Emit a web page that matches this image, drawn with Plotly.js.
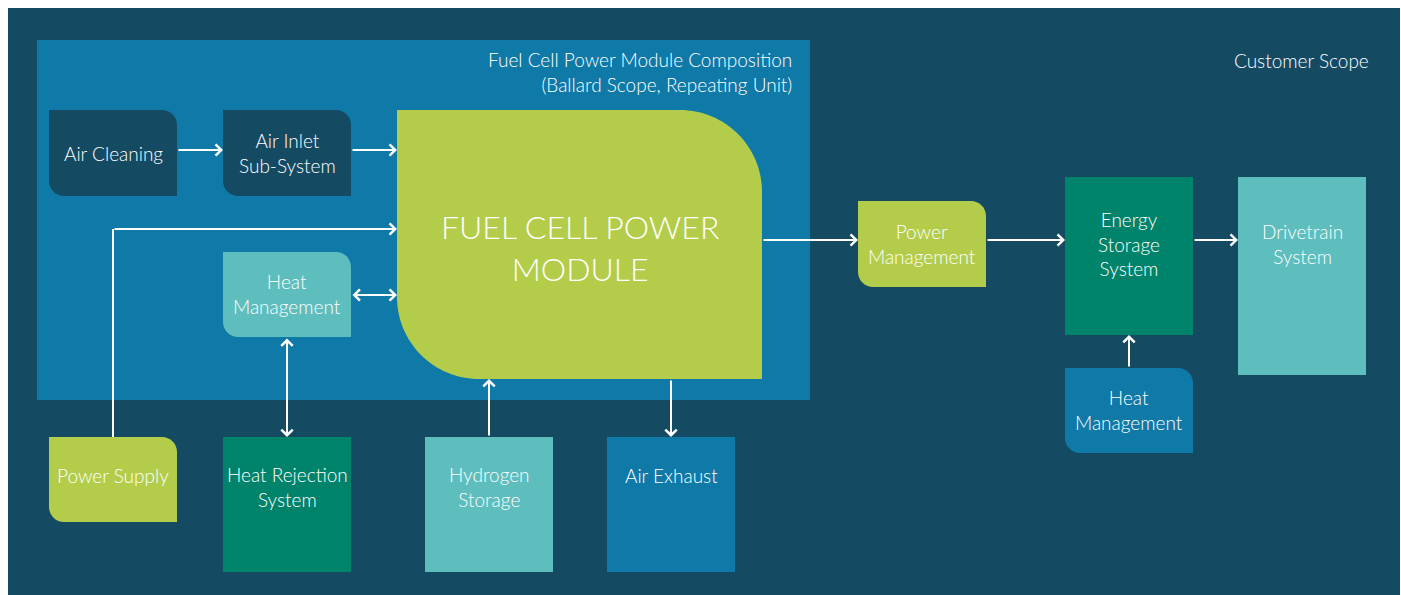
<!DOCTYPE html>
<html>
<head>
<meta charset="utf-8">
<script src="https://cdn.plot.ly/plotly-3.0.1.min.js"></script>
<style>html,body{margin:0;padding:0;background:#fff;}#chart{width:1401px;height:595px;}</style>
</head>
<body>
<div id="chart"></div>
<script>
// ---- diagram data (diagram coordinate space: x 0..1401, y 0..595 top-down) ----
const nodeNames  = ['Air Cleaning', 'Air Inlet<br>Sub-System', 'Heat<br>Management', 'Power Supply',
                    'Heat Rejection<br>System', 'Hydrogen<br>Storage', 'Air Exhaust', 'Power<br>Management',
                    'Energy<br>Storage<br>System', 'Heat<br>Management', 'Drivetrain<br>System'];
const nodeKind   = ['dark', 'dark', 'teal', 'lime', 'green', 'teal', 'blue', 'lime', 'green', 'blue', 'teal'];
const nodeRounded= [true, true, true, true, false, false, false, true, false, true, false];
const nodeLeft   = [49, 223, 223, 49, 223, 425, 607, 858, 1065, 1065, 1238];
const nodeRight  = [177, 351, 351, 177, 351, 553, 735, 986, 1193, 1193, 1366];
const nodeTop    = [110, 110, 252, 437, 437, 437, 437, 201, 177, 368, 177];
const nodeBottom = [196, 196, 337, 522, 572, 572, 572, 287, 335, 453, 375];
const nodeTextY  = [153, 153, 294, 475, 487, 487, 475, 244, 244, 410, 244];

const coreName   = 'FUEL CELL POWER<br>MODULE';
const coreBox    = [397, 110, 762, 379]; // left, top, right, bottom

const scopeBox   = [37, 40, 810, 400];
const scopeText  = 'Fuel Cell Power Module Composition<br>(Ballard Scope, Repeating Unit)';
const customerText = 'Customer Scope';

// links: tail x, tail y, head x, head y, both ends?
const linkX0 = [177, 351, 113, 351, 287, 489, 671, 762, 986, 1193, 1129];
const linkY0 = [150, 150, 229, 295, 337, 437, 379, 240, 240, 240, 368];
const linkX1 = [223, 397, 397, 397, 287, 489, 671, 858, 1065, 1238, 1129];
const linkY1 = [150, 150, 229, 295, 437, 379, 437, 240, 240, 240, 335];
const linkBoth = [false, false, false, true, true, false, false, false, false, false, false];
// power supply riser
const riserX = [113, 113];
const riserY = [437, 229];

const palette = {dark:'#154a63', teal:'#5ebdbd', lime:'#b3cd4b', green:'#00836b', blue:'#0f79a8'};
const BG = '#154a63', SCOPE = '#0f79a8';

// ---- build ----
function leafPath(x0, y0, x1, y1, r) {
  const k = 0.5523 * r;
  return `M${x0},${y0} L${x1 - r},${y0} C${x1 - r + k},${y0} ${x1},${y0 + r - k} ${x1},${y0 + r} ` +
         `L${x1},${y1} L${x0 + r},${y1} C${x0 + r - k},${y1} ${x0},${y1 - r + k} ${x0},${y1 - r} Z`;
}

const shapes = [];
shapes.push({type:'rect', xref:'x', yref:'y', x0:8, x1:1400, y0:8, y1:595, fillcolor:BG, line:{width:0}, layer:'below'});
shapes.push({type:'rect', xref:'x', yref:'y', x0:scopeBox[0], x1:scopeBox[2], y0:scopeBox[1], y1:scopeBox[3], fillcolor:SCOPE, line:{width:0}, layer:'below'});
shapes.push({type:'path', xref:'x', yref:'y', path:leafPath(coreBox[0], coreBox[1], coreBox[2], coreBox[3], 82), fillcolor:palette.lime, line:{width:0}, layer:'below'});
nodeNames.forEach((n, i) => {
  const x0 = nodeLeft[i], x1 = nodeRight[i], y0 = nodeTop[i], y1 = nodeBottom[i];
  const s = nodeRounded[i]
    ? {type:'path', path:leafPath(x0, y0, x1, y1, 15)}
    : {type:'rect', x0:x0, x1:x1, y0:y0, y1:y1};
  Object.assign(s, {xref:'x', yref:'y', fillcolor:palette[nodeKind[i]], line:{width:0}, layer:'below'});
  shapes.push(s);
});
shapes.push({type:'line', xref:'x', yref:'y', x0:riserX[0], y0:riserY[0], x1:riserX[1], y1:riserY[1], line:{color:'#ffffff', width:2}});

const FONT = 'Lato, "Open Sans", sans-serif';
const annotations = [];
nodeNames.forEach((n, i) => {
  annotations.push({x:(nodeLeft[i] + nodeRight[i]) / 2, y:nodeTextY[i], xref:'x', yref:'y', text:n, showarrow:false,
    font:{family:FONT, size:19, color:'#ffffff', weight:300}, align:'center', xanchor:'center', yanchor:'middle'});
});
annotations.push({x:580, y:247, xref:'x', yref:'y', text:coreName, showarrow:false,
  font:{family:FONT, size:32, color:'#ffffff', weight:300}, align:'center', xanchor:'center', yanchor:'middle'});
annotations.push({x:794, y:72, xref:'x', yref:'y', text:scopeText, showarrow:false,
  font:{family:FONT, size:19, color:'#ffffff', weight:300}, align:'right', xanchor:'right', yanchor:'middle'});
annotations.push({x:1371, y:60, xref:'x', yref:'y', text:customerText, showarrow:false,
  font:{family:FONT, size:19, color:'#ffffff', weight:300}, align:'right', xanchor:'right', yanchor:'middle'});
linkX0.forEach((x, i) => {
  annotations.push({x:linkX1[i], y:linkY1[i], ax:x, ay:linkY0[i], xref:'x', yref:'y', axref:'x', ayref:'y',
    text:'', showarrow:true, arrowhead:4, arrowsize:1.1, arrowwidth:2, arrowcolor:'#ffffff',
    arrowside: linkBoth[i] ? 'end+start' : 'end', startarrowhead:4, startarrowsize:1.1, standoff:0, startstandoff:0});
});

const layout = {
  width:1401, height:595, margin:{l:0, r:0, t:0, b:0},
  paper_bgcolor:'#ffffff', plot_bgcolor:'#ffffff',
  xaxis:{range:[0, 1401], visible:false, fixedrange:true},
  yaxis:{range:[595, 0], visible:false, fixedrange:true},
  showlegend:false, shapes:shapes, annotations:annotations
};
Plotly.newPlot('chart', [], layout, {displayModeBar:false, staticPlot:true});
</script>
</body>
</html>
